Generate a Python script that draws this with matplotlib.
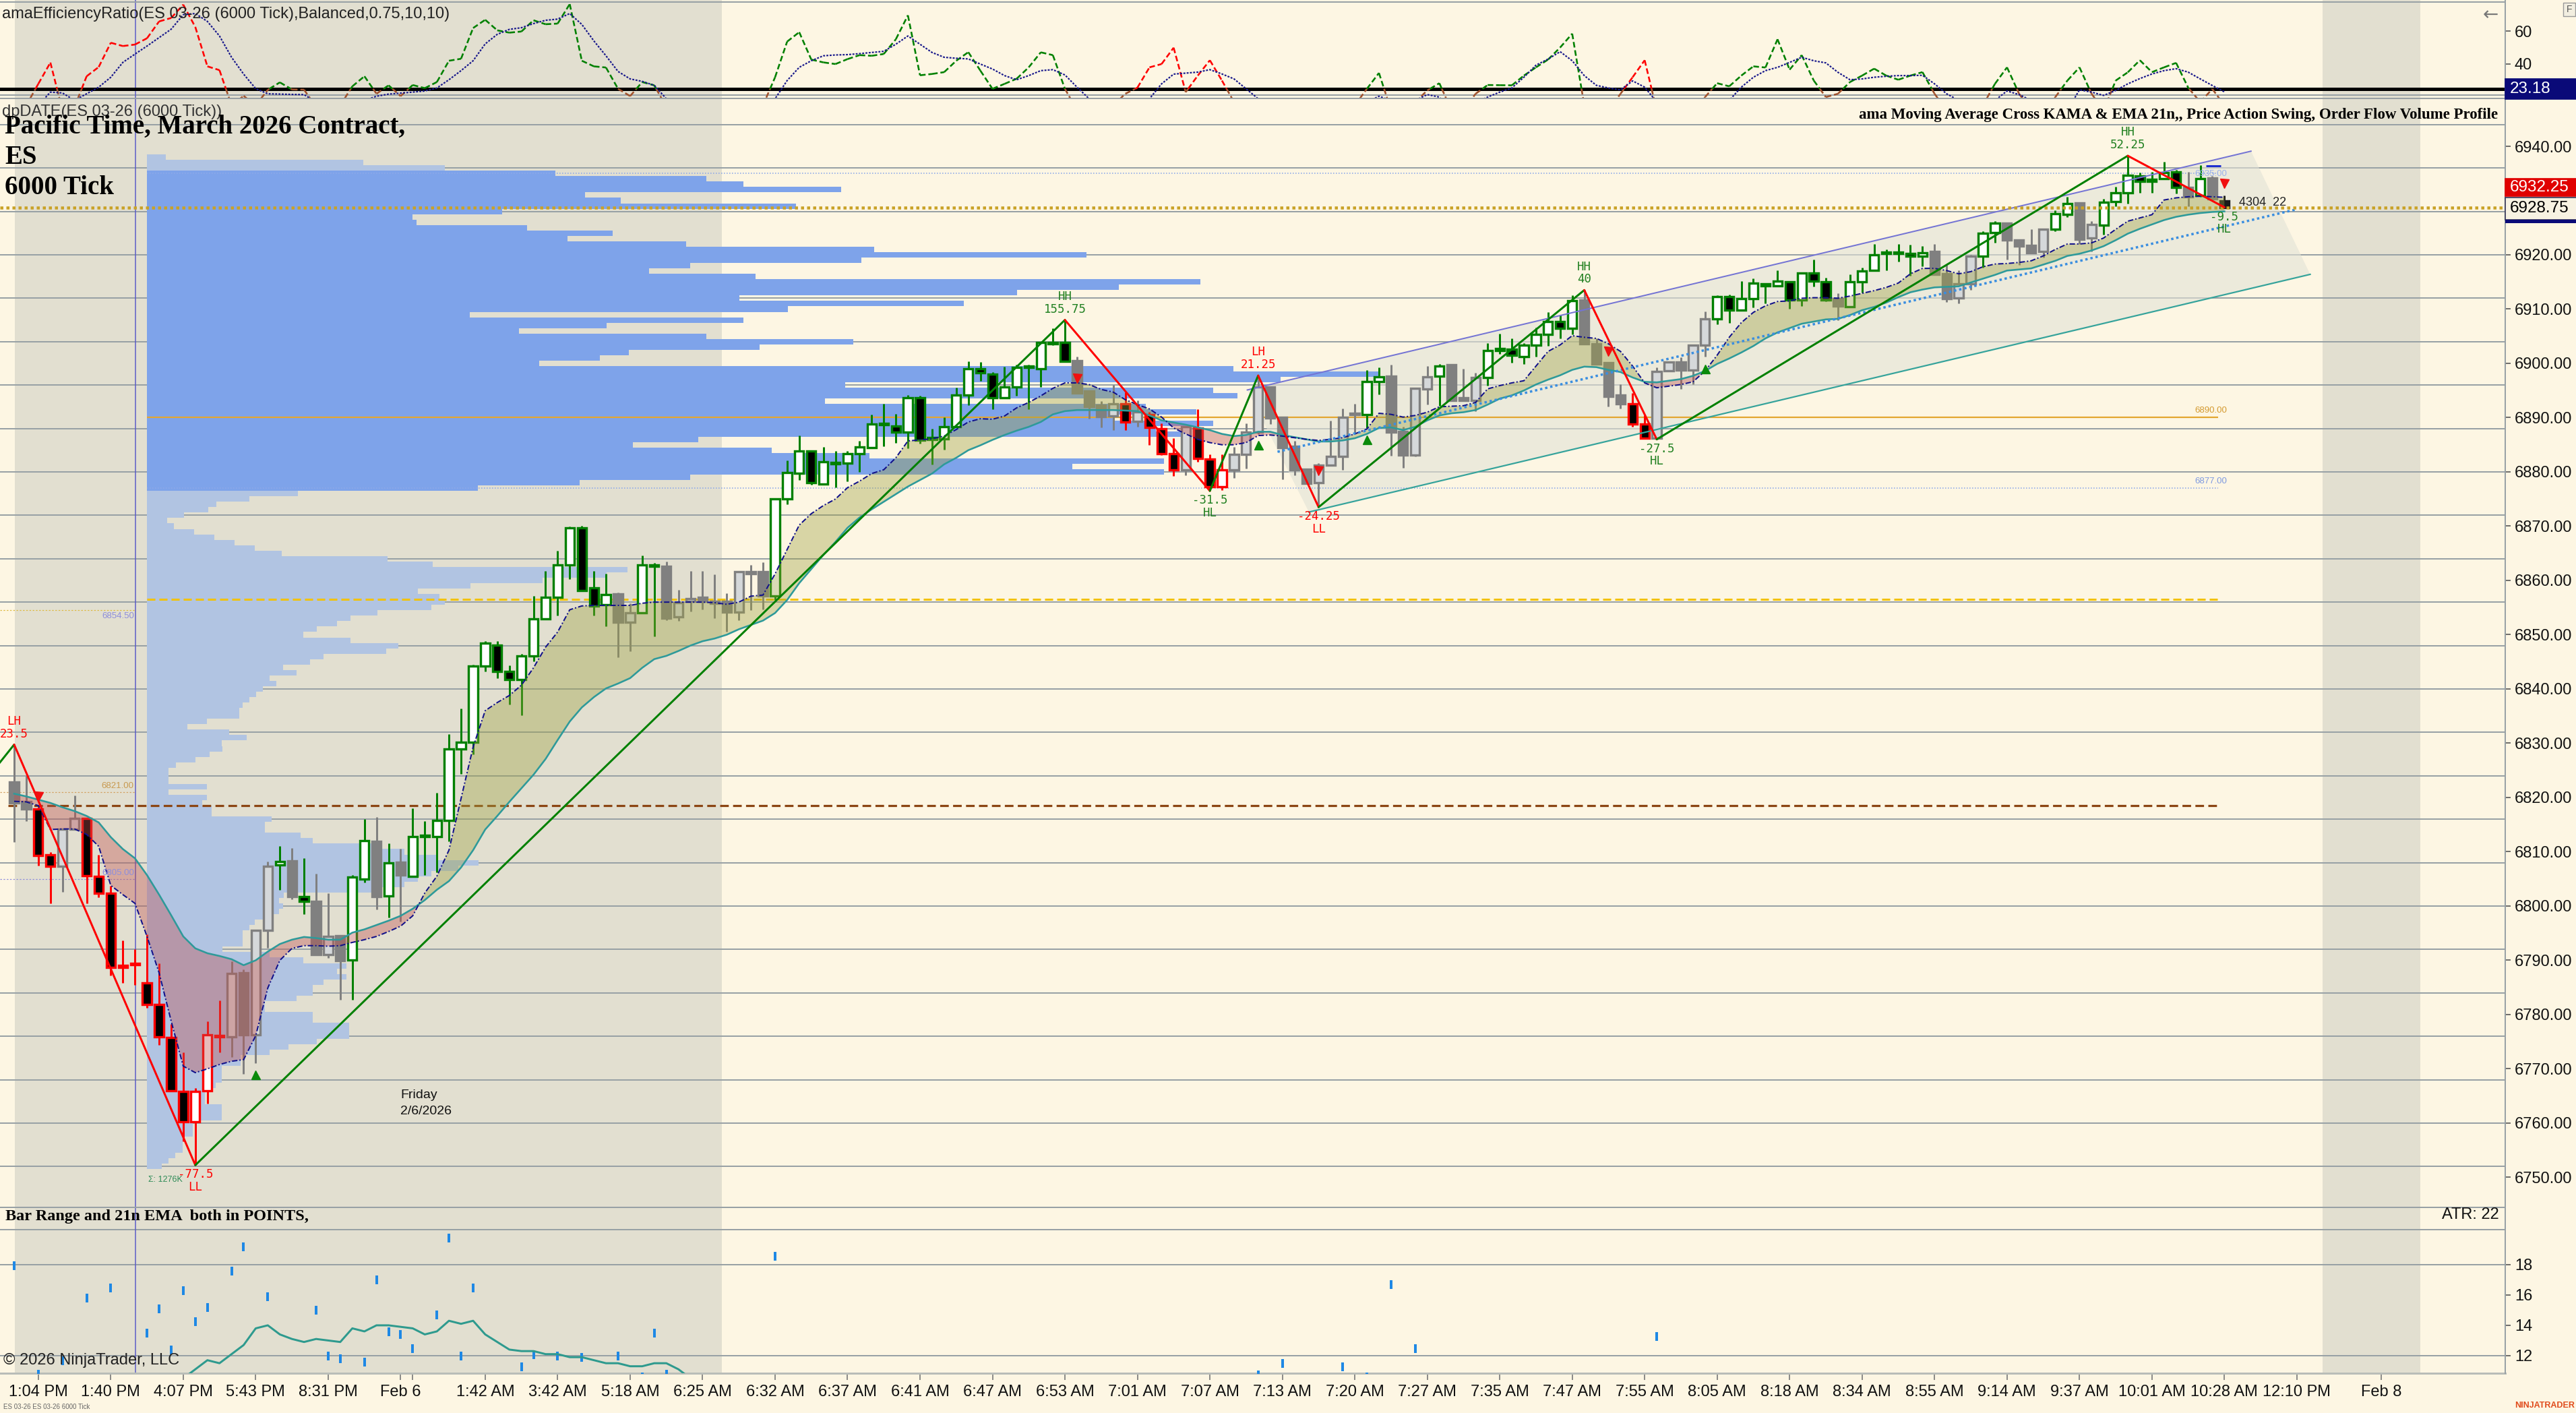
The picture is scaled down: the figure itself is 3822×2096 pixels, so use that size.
import numpy as np
import matplotlib
matplotlib.use("Agg")
import matplotlib.pyplot as plt
from matplotlib.patches import Rectangle, Polygon
from matplotlib.lines import Line2D
from matplotlib.collections import LineCollection

plt.rcParams['font.family'] = ['Liberation Sans', 'DejaVu Sans']

# ---------------- DATA ----------------
opens = [
    6822.9, 6819.2, 6817.9, 6809.5, 6807.3, 6814.2, 6816.2, 6805.5, 6802.3, 6788.7,
    6789.2, 6785.8, 6781.8, 6775.8, 6765.8, 6760.3, 6765.9, 6776.2, 6775.9, 6787.7,
    6776.3, 6795.5, 6807.6, 6808.3, 6801.7, 6800.9, 6791.0, 6794.5, 6790.0, 6805.0,
    6811.9, 6801.9, 6808.1, 6805.5, 6812.8, 6812.8, 6815.8, 6829.0, 6830.2, 6844.2,
    6848.1, 6843.2, 6841.7, 6846.1, 6852.9, 6856.9, 6862.9, 6869.7, 6858.6, 6855.5,
    6857.5, 6852.3, 6854.0, 6862.8, 6862.6, 6853.3, 6856.1, 6856.9, 6856.2, 6856.2,
    6854.1, 6861.6, 6861.6, 6857.1, 6875.0, 6879.7, 6883.8, 6877.8, 6881.6, 6881.6,
    6883.3, 6884.5, 6888.8, 6888.5, 6887.3, 6893.7, 6886.1, 6886.1, 6888.3, 6894.2,
    6899.0, 6898.0, 6893.7, 6895.6, 6899.3, 6899.0, 6903.7, 6903.8, 6900.5, 6894.9,
    6892.3, 6890.3, 6892.5, 6889.3, 6890.6, 6887.9, 6883.3, 6880.4, 6888.1, 6882.3,
    6877.3, 6880.4, 6883.2, 6887.3, 6895.7, 6890.1, 6884.7, 6880.5, 6878.0, 6881.2,
    6882.8, 6890.6, 6890.6, 6896.6, 6897.6, 6887.5, 6883.1, 6895.3, 6897.6, 6899.7,
    6893.7, 6893.2, 6897.4, 6902.4, 6902.6, 6901.3, 6903.4, 6905.3, 6907.7, 6906.5,
    6911.7, 6903.6, 6900.1, 6894.1, 6892.5, 6888.8, 6886.25, 6898.6, 6900.3, 6898.8,
    6903.3, 6908.2, 6912.3, 6909.8, 6911.9, 6914.5, 6914.3, 6915.0, 6911.7, 6916.6,
    6915.0, 6911.9, 6910.4, 6915.0, 6917.1, 6920.2, 6920.2, 6920.2, 6919.8, 6920.6,
    6916.5, 6912.1, 6914.6, 6919.8, 6924.1, 6925.8, 6922.7, 6921.8, 6920.6, 6924.7,
    6927.5, 6929.6, 6923.1, 6925.5, 6929.8, 6931.4, 6934.5, 6933.5, 6934.0, 6935.3,
    6932.4, 6930.9, 6934.2, 6929.9]
highs = [
    6829.75, 6824.0, 6818.2, 6809.9, 6814.3, 6820.4, 6816.3, 6809.5, 6803.7, 6793.7,
    6792.0, 6794.8, 6789.5, 6778.3, 6773.0, 6766.5, 6778.8, 6782.6, 6789.8, 6788.3,
    6795.5, 6808.2, 6811.0, 6810.7, 6808.8, 6806.0, 6802.4, 6794.5, 6805.7, 6816.0,
    6816.4, 6811.5, 6810.5, 6818.0, 6815.7, 6820.9, 6831.7, 6836.4, 6844.5, 6848.8,
    6848.8, 6844.3, 6846.4, 6857.2, 6861.8, 6865.5, 6869.9, 6870.0, 6861.7, 6861.3,
    6857.8, 6855.8, 6864.6, 6863.2, 6863.5, 6858.3, 6861.8, 6861.8, 6861.1, 6857.6,
    6861.7, 6862.8, 6863.3, 6875.0, 6882.1, 6886.7, 6884.0, 6884.6, 6883.8, 6883.8,
    6885.7, 6890.5, 6892.6, 6890.7, 6894.2, 6894.0, 6888.0, 6890.0, 6895.5, 6900.4,
    6900.3, 6898.4, 6899.4, 6899.8, 6899.8, 6903.8, 6906.4, 6908.0, 6901.2, 6894.9,
    6893.0, 6896.0, 6894.6, 6893.2, 6891.0, 6888.9, 6886.2, 6888.5, 6891.5, 6883.2,
    6883.2, 6884.6, 6888.9, 6897.75, 6895.7, 6890.1, 6885.7, 6880.5, 6881.6, 6889.5,
    6891.7, 6892.6, 6898.7, 6899.3, 6899.7, 6888.3, 6895.4, 6899.5, 6899.9, 6899.7,
    6899.0, 6898.2, 6903.7, 6905.5, 6904.6, 6903.7, 6906.6, 6909.4, 6909.0, 6912.5,
    6913.5, 6904.6, 6900.1, 6896.2, 6894.5, 6890.4, 6899.3, 6900.2, 6901.1, 6903.3,
    6909.6, 6912.5, 6912.7, 6915.1, 6915.6, 6914.8, 6917.2, 6915.0, 6916.6, 6919.1,
    6915.8, 6912.9, 6916.4, 6917.7, 6922.0, 6921.0, 6922.0, 6921.9, 6921.6, 6922.0,
    6918.1, 6917.1, 6920.0, 6924.3, 6926.2, 6925.8, 6922.7, 6924.7, 6924.9, 6928.2,
    6930.7, 6929.7, 6926.2, 6930.3, 6932.6, 6938.25, 6935.1, 6935.3, 6937.1, 6935.6,
    6935.3, 6936.5, 6934.5, 6930.9]
lows = [
    6811.8, 6815.7, 6807.4, 6800.5, 6802.6, 6814.2, 6800.5, 6801.6, 6787.2, 6785.8,
    6785.5, 6781.3, 6774.4, 6765.9, 6756.7, 6752.25, 6763.6, 6773.0, 6772.2, 6769.1,
    6771.1, 6792.3, 6803.0, 6801.3, 6798.5, 6791.0, 6790.4, 6782.7, 6782.7, 6804.4,
    6799.4, 6797.9, 6797.1, 6805.5, 6805.7, 6806.2, 6811.9, 6824.4, 6828.0, 6843.2,
    6842.0, 6837.2, 6835.1, 6845.1, 6852.9, 6853.5, 6860.2, 6858.1, 6853.5, 6851.5,
    6845.8, 6847.0, 6854.0, 6849.7, 6852.7, 6852.6, 6854.3, 6854.6, 6853.1, 6850.5,
    6852.7, 6854.5, 6854.7, 6856.4, 6874.0, 6878.5, 6877.6, 6877.6, 6877.1, 6878.3,
    6880.0, 6884.4, 6884.7, 6885.4, 6884.4, 6885.2, 6881.4, 6884.1, 6888.3, 6892.3,
    6896.8, 6891.6, 6893.7, 6894.0, 6891.6, 6895.6, 6903.3, 6900.4, 6894.5, 6889.8,
    6888.2, 6887.7, 6887.7, 6888.3, 6885.0, 6883.1, 6879.2, 6879.4, 6881.9, 6876.5,
    6876.6, 6878.9, 6880.6, 6887.0, 6888.8, 6878.6, 6879.4, 6877.9, 6873.5, 6881.2,
    6880.4, 6887.0, 6888.1, 6894.3, 6883.0, 6880.8, 6882.9, 6892.4, 6892.2, 6893.2,
    6893.2, 6891.2, 6895.9, 6901.7, 6900.1, 6899.9, 6901.3, 6903.2, 6904.6, 6905.4,
    6903.6, 6899.9, 6892.1, 6891.7, 6888.3, 6886.25, 6886.0, 6898.6, 6895.3, 6896.1,
    6901.3, 6907.2, 6907.5, 6909.8, 6910.3, 6911.1, 6914.2, 6910.1, 6910.6, 6914.2,
    6911.4, 6907.9, 6910.4, 6913.1, 6917.1, 6917.1, 6918.7, 6916.2, 6917.9, 6916.4,
    6911.3, 6911.1, 6913.6, 6917.6, 6922.2, 6919.1, 6918.1, 6920.3, 6919.5, 6924.3,
    6927.0, 6922.0, 6920.6, 6923.7, 6928.9, 6929.5, 6931.4, 6931.4, 6934.0, 6931.3,
    6929.0, 6930.7, 6930.3, 6928.75]
closes = [
    6819.0, 6817.9, 6809.3, 6807.3, 6814.2, 6816.2, 6805.6, 6802.4, 6788.7, 6789.1,
    6789.2, 6781.8, 6775.9, 6765.9, 6760.3, 6765.8, 6776.3, 6775.9, 6787.6, 6776.3,
    6795.5, 6807.3, 6808.2, 6801.7, 6800.9, 6791.0, 6794.4, 6789.9, 6805.3, 6812.1,
    6801.7, 6807.9, 6805.7, 6812.8, 6812.8, 6815.8, 6829.0, 6830.2, 6844.2, 6848.4,
    6843.2, 6841.7, 6846.1, 6852.9, 6856.9, 6862.9, 6869.7, 6858.1, 6855.3, 6857.4,
    6852.3, 6854.0, 6862.8, 6862.6, 6853.1, 6855.9, 6856.7, 6856.1, 6855.8, 6854.1,
    6861.6, 6861.3, 6857.1, 6875.0, 6879.9, 6883.8, 6878.0, 6881.9, 6881.5, 6883.4,
    6884.6, 6888.8, 6888.7, 6887.3, 6893.7, 6885.9, 6886.0, 6888.3, 6894.2, 6899.0,
    6898.2, 6893.7, 6895.6, 6899.3, 6899.2, 6903.8, 6903.6, 6900.4, 6894.5, 6892.1,
    6890.2, 6892.6, 6889.2, 6891.0, 6888.2, 6883.3, 6880.4, 6888.3, 6882.5, 6877.3,
    6880.4, 6883.2, 6887.3, 6895.7, 6889.9, 6884.5, 6880.4, 6877.9, 6881.3, 6882.8,
    6890.1, 6890.5, 6896.6, 6897.5, 6887.3, 6883.1, 6895.4, 6897.5, 6899.5, 6893.2,
    6893.2, 6897.4, 6902.4, 6902.7, 6901.5, 6903.4, 6905.3, 6907.7, 6906.5, 6911.6,
    6903.6, 6899.9, 6893.9, 6892.6, 6888.8, 6886.25, 6898.5, 6900.2, 6898.7, 6903.3,
    6908.2, 6912.3, 6909.8, 6911.9, 6914.8, 6914.3, 6915.1, 6911.7, 6916.6, 6915.2,
    6911.7, 6910.6, 6915.0, 6917.0, 6920.0, 6920.5, 6920.2, 6919.8, 6920.4, 6916.4,
    6911.9, 6914.6, 6919.8, 6924.0, 6925.8, 6922.7, 6921.6, 6920.4, 6924.7, 6927.6,
    6929.5, 6922.9, 6925.6, 6929.7, 6931.4, 6934.7, 6933.6, 6933.9, 6935.2, 6932.4,
    6930.7, 6934.0, 6930.3, 6928.75]
# swing trend colour of each candle: g = up swing, r = down swing, n = neutral, k = live bar
trend = ("nnrrnnrrrr" "rrrrrrrrnn" "nngngnnngg" "ngnggggggg" "gggggggggg"
         "nnggnnnnnn" "nnnggggggg" "gggggggggg" "ggggggggnn" "nnrnrrrnrr"
         "rnnnnnnnnn" "nnggnnnngn" "nngggggggg" "nnnnrrnnnn" "nggggggggg"
         "gngggggggn" "nnnggnnnng" "gnnggggggg" "ngnk")

ema21 = [
    6820.7, 6820.2, 6819.6, 6819.0, 6818.2, 6817.5, 6816.6, 6815.4, 6812.7, 6810.5,
    6808.8, 6805.7, 6802.1, 6798.3, 6794.4, 6792.2, 6791.3, 6790.8, 6790.2, 6789.1,
    6790.0, 6791.6, 6793.0, 6793.8, 6794.3, 6794.1, 6793.8, 6793.8, 6795.1, 6795.7,
    6796.5, 6797.3, 6798.2, 6799.5, 6801.1, 6803.0, 6804.6, 6807.1, 6810.3, 6814.1,
    6816.6, 6819.2, 6821.7, 6824.2, 6827.1, 6830.6, 6834.0, 6836.6, 6838.5, 6840.1,
    6841.0, 6842.0, 6843.9, 6845.5, 6846.1, 6847.0, 6848.0, 6848.8, 6849.3, 6850.0,
    6851.0, 6851.8, 6852.6, 6854.0, 6856.4, 6859.5, 6862.1, 6864.7, 6867.1, 6869.7,
    6871.6, 6873.1, 6874.5, 6875.9, 6877.3, 6878.5, 6879.7, 6881.4, 6882.6, 6884.0,
    6884.9, 6885.9, 6886.8, 6887.6, 6888.3, 6889.2, 6890.6, 6891.2, 6891.4, 6891.4,
    6891.4, 6891.4, 6891.3, 6891.2, 6890.4, 6889.5, 6889.1, 6888.7, 6888.2, 6887.7,
    6887.0, 6886.6, 6886.8, 6887.4, 6887.4, 6886.8, 6886.4, 6886.0, 6885.6, 6885.6,
    6885.8, 6886.2, 6887.0, 6888.1, 6888.2, 6887.7, 6888.3, 6889.5, 6890.4, 6890.8,
    6891.0, 6891.4, 6892.4, 6893.5, 6894.1, 6895.0, 6896.1, 6897.0, 6897.8, 6898.8,
    6899.4, 6899.3, 6898.8, 6898.4, 6897.4, 6896.6, 6896.5, 6896.8, 6897.1, 6897.7,
    6898.6, 6899.9, 6900.9, 6902.0, 6903.2, 6904.6, 6905.7, 6906.5, 6907.3, 6907.7,
    6908.1, 6908.2, 6908.9, 6909.8, 6910.4, 6911.2, 6912.2, 6913.1, 6913.6, 6914.0,
    6914.1, 6914.2, 6914.9, 6915.6, 6916.3, 6917.1, 6917.3, 6917.5, 6918.2, 6918.9,
    6919.8, 6920.2, 6920.8, 6921.6, 6922.7, 6923.9, 6924.8, 6925.6, 6926.4, 6927.0,
    6927.4, 6927.7, 6927.9, 6928.0]
kama = [
    6819.3, 6819.2, 6818.5, 6814.1, 6814.2, 6814.2, 6813.2, 6811.0, 6803.8, 6802.1,
    6800.5, 6794.4, 6787.7, 6778.8, 6770.5, 6769.3, 6770.0, 6770.8, 6771.4, 6771.7,
    6776.1, 6784.9, 6790.0, 6792.2, 6792.7, 6792.7, 6792.6, 6792.7, 6793.3, 6793.8,
    6794.4, 6795.3, 6796.3, 6798.2, 6802.4, 6805.5, 6810.3, 6819.8, 6829.3, 6836.0,
    6837.5, 6838.8, 6840.7, 6843.9, 6847.7, 6850.5, 6854.6, 6855.3, 6855.4, 6855.4,
    6855.4, 6855.4, 6855.8, 6856.0, 6856.0, 6856.0, 6856.0, 6856.0, 6855.9, 6855.6,
    6856.0, 6857.1, 6857.3, 6861.2, 6865.7, 6870.2, 6872.3, 6873.8, 6875.0, 6877.1,
    6878.3, 6879.7, 6880.4, 6882.6, 6885.7, 6885.9, 6886.1, 6886.6, 6887.8, 6889.2,
    6889.8, 6889.7, 6890.3, 6891.8, 6892.8, 6894.0, 6895.4, 6896.4, 6896.4, 6896.1,
    6895.2, 6894.7, 6893.3, 6892.4, 6891.6, 6890.1, 6888.1, 6887.0, 6886.0, 6885.4,
    6885.0, 6885.0, 6885.4, 6886.7, 6886.8, 6886.6, 6886.3, 6886.0, 6885.8, 6886.0,
    6886.3, 6887.0, 6887.9, 6890.8, 6890.6, 6890.1, 6890.4, 6891.0, 6892.0, 6892.1,
    6892.2, 6892.8, 6895.3, 6895.9, 6896.4, 6896.8, 6899.5, 6902.2, 6903.4, 6905.1,
    6904.8, 6904.6, 6903.6, 6902.2, 6899.5, 6896.4, 6895.5, 6895.8, 6896.1, 6896.6,
    6898.6, 6901.5, 6904.8, 6907.5, 6909.4, 6910.6, 6911.4, 6911.5, 6912.0, 6912.1,
    6912.1, 6912.0, 6912.4, 6912.9, 6913.4, 6914.0, 6914.8, 6916.5, 6917.5, 6917.5,
    6917.1, 6916.5, 6916.9, 6917.8, 6918.3, 6918.4, 6918.6, 6918.9, 6919.8, 6921.0,
    6922.0, 6922.0, 6922.2, 6923.1, 6924.7, 6926.2, 6926.8, 6927.4, 6930.1, 6930.5,
    6930.7, 6930.8, 6930.7, 6930.6]

# efficiency ratio panel
er_values = [
    12, 15, 28, 40.9, 12, 14, 32.6, 38.2, 52.9, 50.9,
    51.8, 55.6, 65.8, 67.9, 76.0, 62.4, 38.6, 36.3, 15, 20.7,
    15, 24.4, 28.9, 24.6, 24.5, 14, 12, 15, 26.5, 32.6,
    22, 27.1, 20.6, 27.3, 25.4, 29.1, 42, 43.2, 61.8, 66.8,
    60.4, 59.0, 59.7, 66.5, 64.1, 64.5, 76.3, 42, 38.6, 37.9,
    25, 20.6, 29.1, 27.1, 14, 12, 12, 12, 12, 12,
    12, 12, 15, 32, 53.6, 59.3, 42.7, 41, 40, 43,
    45.4, 45, 46.1, 55, 69.5, 33.2, 34, 35.1, 42, 47.2,
    36, 25, 28, 31.1, 38, 47.1, 45.4, 25, 12, 12,
    12, 15, 22, 25.7, 38, 40, 49.9, 23, 33, 42.3,
    30, 17, 12, 12, 12, 12, 12, 12, 12, 12,
    12, 15, 25, 34.6, 12, 12, 17, 24, 28.4, 12,
    12, 22, 27.3, 27.2, 27.1, 33, 38, 42.7, 50, 58.4,
    15, 12, 12, 22, 32, 42.3, 12, 12, 12, 12,
    20, 28.4, 26.5, 33, 38.6, 37.9, 55, 36.6, 45.4, 30,
    20, 22, 29.1, 33, 37.2, 33, 30.5, 33, 35.1, 22,
    12, 12, 12, 15, 28, 38, 22, 12, 12, 20,
    30, 38, 22, 12, 30, 35, 42.3, 35.1, 38, 40.7,
    25.7, 17, 24.9, 15]
er_smooth = [
    12, 12, 15, 23, 22.5, 18, 22, 26, 32, 41,
    46, 50.9, 56, 61.1, 69.9, 70.6, 65.8, 57, 44.1, 33.9,
    25.1, 22, 21.8, 21.6, 21.5, 17, 12, 12, 12, 18,
    20.5, 21.8, 22.4, 23, 23.7, 25.5, 30.5, 36, 42, 52.2,
    58, 61, 62, 64.5, 66.5, 67.2, 70.6, 64, 54, 45,
    35.5, 31, 29.5, 27.1, 19, 12, 12, 12, 12, 12,
    12, 12, 12, 19, 30, 38, 42, 45, 45.5, 45.7,
    46.3, 47, 47.7, 52, 57, 52, 47, 44.1, 43.5, 43.1,
    40, 37, 33, 30.5, 33, 36, 36.6, 33.4, 26, 19,
    12, 12, 12, 12, 19, 28, 33.9, 34.5, 35.1, 36.6,
    34, 31, 25, 19, 12, 12, 12, 12, 12, 12,
    12, 12, 17, 20.5, 18, 12, 18, 21.5, 20, 12,
    12, 17, 20, 23, 25.5, 32, 39.3, 43, 47.5, 42,
    33, 27.1, 25.5, 24.4, 29.8, 26, 17, 12, 12, 12,
    12, 12, 18, 26, 32, 36, 38, 41, 44.1, 42,
    40.7, 35, 30.5, 31, 32, 32.6, 33, 33, 33.2, 28,
    22, 18, 12, 12, 18, 23.7, 21.5, 18, 12, 12,
    12, 24.4, 23, 21, 24, 28, 31.2, 34, 36, 37.2,
    35.1, 31, 27, 23.18]
er_down_ranges = [(0, 19), (91, 102), (131, 136)]
er_threshold = 25
er_last = "23.18"

# bar-range EMA (bottom panel), first value belongs to bar 14
range_ema_start = 14
range_ema = [10.5, 11.1, 11.7, 11.5, 12.1, 12.7, 13.8, 14.0, 13.4, 13.1, 12.9, 13.1,
             13.0, 12.9, 13.8, 13.6, 14.0, 14.0, 13.9, 13.8, 13.4, 13.6, 14.3, 14.1,
             14.3, 13.4, 12.9, 12.4, 12.3, 12.3, 12.1, 12.1, 11.9, 11.9, 11.7, 11.5,
             11.5, 11.3, 11.3, 11.5, 11.5, 11.1, 10.5]

# swings (zig-zag)
swing_bars = [-4, 0, 15, 87, 99, 103, 108, 130, 136, 175, 183]
swing_prices = [6818.6, 6829.75, 6752.25, 6908.0, 6876.5, 6897.75, 6873.5,
                6913.5, 6886.0, 6938.25, 6928.75]
swing_names = ["LH", "LL", "HH", "HL", "LH", "LL", "HH", "HL", "HH", "HL"]
swing_values = ["23.5", "-77.5", "155.75", "-31.5", "21.25", "-24.25", "40",
                "-27.5", "52.25", "-9.5"]

sell_bars = [2, 88, 108, 132, 183]
sell_prices = [6820.2, 6897.3, 6880.2, 6902.2, 6933.2]
buy_bars = [20, 103, 112, 140]
buy_prices = [6768.9, 6885.0, 6886.0, 6899.0]

# regression channel (bar, price) end points
chan_upper = [(102.1, 6895.1), (185.2, 6939.1)]
chan_mid = [(104.6, 6883.7), (189.0, 6928.4)]
chan_lower = [(107.2, 6872.6), (190.1, 6916.4)]

# order-flow volume profile (1 point rows from the top price downwards)
vp_top = 6938
vp_volume = [
    28, 321, 442, 606, 830, 885, 1030, 650, 703, 963,
    527, 394, 400, 564, 691, 624, 800, 1079, 1394, 1060,
    806, 745, 903, 1563, 1442, 1291, 879, 1212, 951, 479,
    885, 682, 552, 830, 1048, 909, 715, 672, 582, 1612,
    1830, 1682, 1036, 1582, 1618, 1006, 1482, 1557, 1436, 1582,
    1497, 1542, 818, 721, 927, 1072, 1509, 1373, 1509, 806,
    642, 491, 224, 152, 103, 91, 55, 30, 40, 70,
    100, 130, 160, 200, 357, 424, 713, 682, 587, 480,
    402, 434, 442, 422, 342, 302, 282, 252, 232, 302,
    373, 355, 262, 242, 202, 222, 182, 192, 172, 162,
    152, 142, 137, 137, 89, 60, 122, 148, 111, 112,
    93, 72, 43, 32, 32, 32, 89, 32, 89, 82,
    96, 96, 185, 175, 175, 228, 246, 339, 382, 432,
    492, 462, 422, 402, 382, 342, 203, 196, 202, 196,
    182, 160, 152, 142, 142, 142, 112, 182, 232, 296,
    282, 296, 262, 246, 246, 222, 175, 175, 246, 246,
    300, 300, 300, 252, 210, 182, 139, 139, 111, 111,
    111, 102, 86, 86, 86, 111, 111, 111, 68, 68,
    68, 53, 53, 53, 42, 32, 22]
vp_vah, vp_poc, vp_val = 6935.0, 6890.0, 6877.0
vp_start_bar = 10.99

level_brown = 6818.5
level_gold = 6856.5
last_price = 6928.75
ask_price = 6932.25
session_spans = [(0.05, 58.6), (191.1, 199.2)]
crosshair_bar = 10.02

tick_bars = [2, 8, 14, 20, 26, 32, 39, 45, 51, 57, 63, 69, 75, 81, 87, 93, 99, 105,
             111, 117, 123, 129, 135, 141, 147, 153, 159, 165, 171, 177, 183, 189, 196]
tick_labels = ['1:04 PM', '1:40 PM', '4:07 PM', '5:43 PM', '8:31 PM', 'Feb 6', '1:42 AM',
               '3:42 AM', '5:18 AM', '6:25 AM', '6:32 AM', '6:37 AM', '6:41 AM', '6:47 AM',
               '6:53 AM', '7:01 AM', '7:07 AM', '7:13 AM', '7:20 AM', '7:27 AM', '7:35 AM',
               '7:47 AM', '7:55 AM', '8:05 AM', '8:18 AM', '8:34 AM', '8:55 AM', '9:14 AM',
               '9:37 AM', '10:01 AM', '10:28 AM', '12:10 PM', 'Feb 8']
price_ticks = [6940, 6920, 6910, 6900, 6890, 6880, 6870, 6860, 6850, 6840, 6830,
               6820, 6810, 6800, 6790, 6780, 6770, 6760, 6750]

n = len(closes)
assert len(opens) == len(highs) == len(lows) == n == len(trend) == len(ema21) == len(kama)
assert len(er_values) == n == len(er_smooth)

# ---------------- LAYOUT ----------------
W, H, DPI = 3823, 2096, 100
def pt(px):
    return px * 72.0 / DPI

X0, DX = 21.0, 17.92
PLOT_R = 3717
def bx(xpx):
    return (xpx - X0) / DX
XLIM = (bx(0), bx(PLOT_R))

BG = '#FDF6E3'
SESS = '#E2DFD0'
GRID = '#98A1A5'
GREEN = '#008000'
GREEN_T = '#1F7F1F'
RED = '#FF0000'

fig = plt.figure(figsize=(W / DPI, H / DPI), dpi=DPI, facecolor=BG)

def add_ax(y0, y1, ylim):
    a = fig.add_axes([0, 1 - y1 / H, PLOT_R / W, (y1 - y0) / H])
    a.set_facecolor(BG)
    for s in a.spines.values():
        s.set_visible(False)
    a.set_xlim(*XLIM)
    a.set_ylim(*ylim)
    a.tick_params(axis='x', which='both', bottom=False, labelbottom=False)
    a.yaxis.tick_right()
    a.tick_params(axis='y', which='both', length=6, width=1.2, color='#555555',
                  labelsize=17, pad=4, labelcolor='#111111')
    for s0, s1 in session_spans:
        a.axvspan(s0, s1, color=SESS, lw=0, zorder=0)
    a.axvline(crosshair_bar, color='#5A5AC8', lw=pt(1.5), zorder=1.2)
    return a

ax_top = add_ax(0, 146, (19.18, 78.78))
ax = add_ax(146, 1791, (6744.47, 6948.82))
ax_bot = add_ax(1791, 2037, (10.84, 21.78))

# ---------------- TOP PANEL: efficiency ratio ----------------
ax_top.set_yticks([60, 40])
ax_top.set_yticklabels(['60', '40'])
ax_top.axhline(77.55, color=GRID, lw=pt(2), zorder=1)
ax_top.axhline(21.35, color=GRID, lw=pt(2), zorder=1)
ax_top.axhline(er_threshold, color='black', lw=pt(5), zorder=1.5)

def is_down(i):
    return any(a <= i <= b for a, b in er_down_ranges)

segs, cols = [], []
BROWN = '#A0522D'
for i in range(n - 1):
    v0, v1 = er_values[i], er_values[i + 1]
    tc = RED if is_down(i + 1) or is_down(i) and v1 < er_threshold else GREEN
    if (v0 - er_threshold) * (v1 - er_threshold) < 0:
        t = (er_threshold - v0) / (v1 - v0)
        xm = i + t
        segs.append([(i, v0), (xm, er_threshold)])
        cols.append(tc if v0 > er_threshold else BROWN)
        segs.append([(xm, er_threshold), (i + 1, v1)])
        cols.append(tc if v1 > er_threshold else BROWN)
    else:
        segs.append([(i, v0), (i + 1, v1)])
        cols.append(tc if min(v0, v1) >= er_threshold else BROWN)
lc = LineCollection(segs, colors=cols, linewidths=pt(2.6), linestyles=(0, (3.2, 1.6)), zorder=3)
ax_top.add_collection(lc)
ax_top.plot(range(n), er_smooth, color='#1A1A8C', lw=pt(2.2), ls=(0, (1.3, 0.9)), zorder=3.5)

# ---------------- PRICE PANEL ----------------
ax.set_yticks(price_ticks)
ax.set_yticklabels([f"{v:.2f}" for v in price_ticks])
for g in np.arange(6752, 6945, 8):
    ax.axhline(g, color=GRID, lw=pt(2), zorder=1)

# channel fill
poly = Polygon([chan_upper[0], chan_upper[1], chan_lower[1], chan_lower[0]], closed=True,
               facecolor='#E2E2D6', edgecolor='none', alpha=0.6, zorder=1.5)
ax.add_patch(poly)

# volume profile
vp_prices = vp_top - np.arange(len(vp_volume))
vp_colors = ['#7EA3EA' if vp_val <= p <= vp_vah else '#B1C4E2' for p in vp_prices]
ax.barh(vp_prices, np.array(vp_volume) / DX, left=vp_start_bar, height=1.0,
        color=vp_colors, lw=0, zorder=2)

# horizontal levels
right_end = 182.5
ax.hlines(level_brown, -0.5, right_end, color='#8B4513', lw=pt(3.2), linestyles=(0, (4, 2)), zorder=2.6)
ax.hlines(level_gold, vp_start_bar, right_end, color='#F2C200', lw=pt(3), linestyles=(0, (4, 2)), zorder=2.6)
ax.hlines(vp_poc, vp_start_bar, right_end, color='#E3A630', lw=pt(2.2), zorder=2.6)
ax.hlines([vp_val, vp_vah], vp_start_bar, right_end, color='#8DA8E8', lw=pt(1.6),
          linestyles=(0, (1, 1.5)), zorder=2.6)
ax.hlines(6821.0, XLIM[0], crosshair_bar, color='#D2A060', lw=pt(1.2), linestyles=(0, (2, 2)), zorder=2.6)
ax.hlines(6805.0, XLIM[0], crosshair_bar, color='#8E8EDC', lw=pt(1.2), linestyles=(0, (2, 2)), zorder=2.6)
ax.hlines(6854.5, XLIM[0], crosshair_bar, color='#DDB940', lw=pt(1.2), linestyles=(0, (2, 2)), zorder=2.6)

small = dict(fontsize=9.5, zorder=8)
ax.text(crosshair_bar - 0.1, 6821.0 + 0.4, "6821.00", ha='right', va='bottom', color='#C89A50', **small)
ax.text(crosshair_bar - 0.1, 6805.0 + 0.4, "6805.00", ha='right', va='bottom', color='#8E8EDC', **small)
ax.text(crosshair_bar - 0.1, 6854.5 - 0.3, "6854.50", ha='right', va='top', color='#8E8EDC', **small)
ax.text(right_end - 0.6, vp_poc + 0.5, "6890.00", ha='center', va='bottom', color='#D49A30', **small)
ax.text(right_end - 0.6, vp_val + 0.5, "6877.00", ha='center', va='bottom', color='#7F9AE0', **small)
ax.text(right_end - 0.6, vp_vah - 0.1, "6935.00", ha='center', va='center', color='#9BB2EC', **small)
ax.hlines(vp_vah + 1.4, right_end - 1.0, right_end + 0.2, color='#1E2FD0', lw=pt(3), zorder=8)

# candles
bw = 0.74
edge_map = {'g': GREEN, 'r': RED, 'n': '#808080', 'k': '#1A1A1A'}
for i in range(n):
    o, h, l, c = opens[i], highs[i], lows[i], closes[i]
    t = trend[i]
    ec = edge_map[t]
    up = c >= o
    if t in 'gr':
        fc = '#FFFFFF' if up else '#000000'
    elif t == 'n':
        fc = '#D5D8DA' if up else '#808080'
    else:
        fc = '#1A1A1A'
    ax.vlines(i, l, h, color=ec, lw=pt(3), zorder=3)
    bottom = min(o, c)
    height = max(abs(c - o), 0.3)
    ax.add_patch(Rectangle((i - bw / 2, bottom), bw, height, facecolor=fc, edgecolor=ec,
                           lw=pt(3.4), zorder=3.5))

# moving averages
xs = np.arange(n)
k_arr, e_arr = np.array(kama), np.array(ema21)
ax.fill_between(xs, k_arr, e_arr, where=k_arr >= e_arr, interpolate=True,
                color='#9DA040', alpha=0.38, lw=0, zorder=4)
ax.fill_between(xs, k_arr, e_arr, where=k_arr < e_arr, interpolate=True,
                color='#C0504D', alpha=0.38, lw=0, zorder=4)
ax.plot(xs, e_arr, color='#2E9A9A', lw=pt(2.6), zorder=4.5)
ax.plot(xs, k_arr, color='#10108A', lw=pt(2.0), ls=(0, (4, 1.5, 1, 1.5)), zorder=4.6)

# channel lines
ax.plot(*zip(*chan_upper), color='#7474D4', lw=pt(2), zorder=5)
ax.plot(*zip(*chan_mid), color='#3A8EE0', lw=pt(3.5), ls=(0, (1, 1.2)), zorder=5)
ax.plot(*zip(*chan_lower), color='#35A39B', lw=pt(2.2), zorder=5)

# last price dotted line
ax.axhline(last_price, color='#C9A227', lw=pt(4.5), ls=(0, (1, 1)), zorder=5.2)

# swings
for j in range(1, len(swing_bars)):
    b0, p0, b1, p1 = swing_bars[j - 1], swing_prices[j - 1], swing_bars[j], swing_prices[j]
    col = GREEN if p1 > p0 else RED
    ax.plot([b0, b1], [p0, p1], color=col, lw=pt(3), zorder=6, solid_capstyle='round')
for b, p, name, val in zip(swing_bars[1:], swing_prices[1:], swing_names, swing_values):
    col = RED if name in ('LH', 'LL') else GREEN_T
    kw = dict(textcoords='offset points', ha='center', color=col, fontsize=12.5,
              family='DejaVu Sans Mono', linespacing=1.05, zorder=9)
    if name in ('HH', 'LH'):
        ax.annotate(f"{name}\n{val}", (b, p), xytext=(0, pt(7)), va='bottom', **kw)
    else:
        ax.annotate(f"{val}\n{name}", (b, p), xytext=(0, -pt(5)), va='top', **kw)

ax.plot(sell_bars, sell_prices, ls='none', marker='v', ms=pt(13), color='#F01010', zorder=7)
ax.plot(buy_bars, buy_prices, ls='none', marker='^', ms=pt(13), color='#0A8A0A', zorder=7)

ax.text(vp_start_bar + 0.1, 6749.6, "Σ: 1276K", ha='left', va='center',
        color='#2E8B57', fontsize=9, zorder=8)
ax.text(32.0, 6765.2, "Friday", ha='left', va='center', fontsize=14, color='#111111', zorder=8)
ax.text(32.0, 6762.2, "2/6/2026", ha='left', va='center', fontsize=14, color='#111111', zorder=8)
ax.text(184.2, last_price + 0.9, "4304  22", ha='left', va='center', fontsize=13,
        color='#222222', zorder=8)

# ---------------- BOTTOM PANEL ----------------
ax_bot.set_yticks([18, 16, 14, 12])
ax_bot.set_yticklabels(['18', '16', '14', '12'])
for g in (20.31, 18, 12):
    ax_bot.axhline(g, color=GRID, lw=pt(2), zorder=1)
bar_range = np.array(highs) - np.array(lows)
rect_marker = [(-0.33, -1), (0.33, -1), (0.33, 1), (-0.33, 1), (-0.33, -1)]
ax_bot.plot(xs, bar_range, ls='none', marker=rect_marker, ms=pt(13), color='#1E88E5',
            markeredgewidth=0, zorder=3)
ax_bot.plot(np.arange(range_ema_start, range_ema_start + len(range_ema)), range_ema,
            color='#2E9A8E', lw=pt(3), zorder=3.5)
ax_bot.spines['bottom'].set_visible(True)
ax_bot.spines['bottom'].set_color('#B9BDB8')
ax_bot.spines['bottom'].set_linewidth(pt(3))
ax_bot.set_xticks(tick_bars + [33])
ax_bot.set_xticklabels(tick_labels + [''])
ax_bot.tick_params(axis='x', bottom=True, labelbottom=True, length=7, width=1.2,
                   color='#777777', labelsize=17, pad=pt(7), labelcolor='#111111')

# ---------------- FIGURE-LEVEL DECORATION ----------------
def fx(x):
    return x / W
def fy(y):
    return 1 - y / H

for yy in (3, 146, 1791):
    fig.add_artist(Line2D([0, fx(PLOT_R)], [fy(yy), fy(yy)], color=GRID, lw=pt(2)))
fig.add_artist(Line2D([fx(PLOT_R), fx(PLOT_R)], [fy(0), fy(2037)], color=GRID, lw=pt(2)))

fig.text(fx(3), fy(27), "amaEfficiencyRatio(ES 03-26 (6000 Tick),Balanced,0.75,10,10)",
         fontsize=17, color='#222222', va='baseline', ha='left')
fig.text(fx(3), fy(172), "dpDATE(ES 03-26 (6000 Tick))", fontsize=17, color='#333333',
         va='baseline', ha='left')
serif = dict(family=['Liberation Serif', 'DejaVu Serif'], fontweight='bold', color='#000000',
             va='baseline', ha='left')
fig.text(fx(7), fy(198), "Pacific Time, March 2026 Contract,", fontsize=28, **serif)
fig.text(fx(7), fy(243), "ES", fontsize=28, **serif)
fig.text(fx(7), fy(288), "6000 Tick", fontsize=28, **serif)
fig.text(fx(3706), fy(176),
         "ama Moving Average Cross KAMA & EMA 21n,, Price Action Swing, Order Flow Volume Profile",
         fontsize=16.5, **{**serif, 'ha': 'right'})
fig.text(fx(8), fy(1810), "Bar Range and 21n EMA  both in POINTS,", fontsize=17.5, **serif)
fig.text(fx(3708), fy(1802), "ATR: 22", fontsize=17, color='#111111', ha='right', va='center')
fig.text(fx(5), fy(2018), "© 2026 NinjaTrader, LLC", fontsize=17, color='#222222',
         ha='left', va='center')
fig.text(fx(5), fy(2087), "ES 03-26 ES 03-26 6000 Tick", fontsize=7, color='#666666',
         ha='left', va='center')
fig.text(fx(3820), fy(2085), "NINJATRADER", fontsize=9, fontweight='bold', color='#E04A1A',
         ha='right', va='center')
fig.text(fx(3695), fy(22), "←", fontsize=20, color='#777777', ha='center', va='center',
         family=['DejaVu Sans'])
fig.add_artist(Rectangle((fx(3803), fy(24)), 18 / W, 20 / H, transform=fig.transFigure,
                         facecolor='#F2EEE0', edgecolor='#999999', lw=1))
fig.text(fx(3812), fy(14), "F", fontsize=10, color='#555555', ha='center', va='center')

def value_box(y0, y1, text, fc, tc, ec=None):
    fig.add_artist(Rectangle((fx(PLOT_R), fy(y1)), (W - PLOT_R) / W, (y1 - y0) / H,
                             transform=fig.transFigure, facecolor=fc,
                             edgecolor=ec if ec else fc, lw=1.2, zorder=10))
    fig.text(fx(3724), fy((y0 + y1) / 2), text, fontsize=17.5, color=tc, ha='left',
             va='center', zorder=11)

value_box(117, 147, er_last, '#0A0A78', '#FFFFFF')
value_box(265, 291, f"{ask_price:.2f}", '#E00000', '#FFFFFF')
value_box(293, 326, f"{last_price:.2f}", '#F7F2E2', '#000000', ec='#333355')
fig.add_artist(Rectangle((fx(PLOT_R), fy(331)), (W - PLOT_R) / W, 5 / H,
                         transform=fig.transFigure, facecolor='#0A0A78', edgecolor='none', zorder=10))

fig.savefig("out.png", dpi=DPI, facecolor=BG)
